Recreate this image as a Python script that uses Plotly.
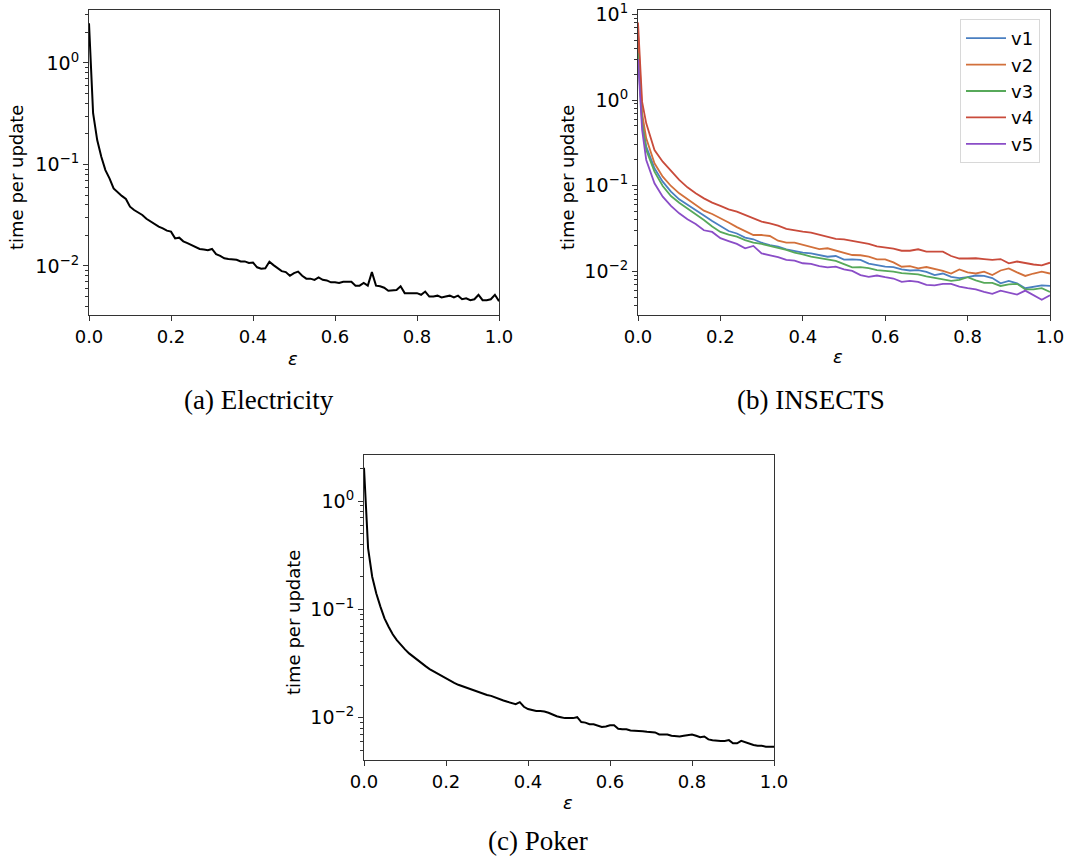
import plotly.graph_objects as go

# ---------------- data ----------------
eps = [round(i * 0.01, 2) for i in range(101)]

electricity = [
    2.46, 0.32, 0.174, 0.119, 0.088, 0.073, 0.058, 0.053, 0.049, 0.0457,
    0.0384, 0.0356, 0.0335, 0.0318, 0.0292, 0.0275, 0.0259, 0.0244, 0.0235, 0.0223,
    0.0218, 0.0187, 0.0190, 0.0175, 0.0168, 0.0161, 0.0154, 0.0147, 0.0145, 0.0143,
    0.0147, 0.0131, 0.0126, 0.0119, 0.0117, 0.0116, 0.0115, 0.0111, 0.0111, 0.0107,
    0.0108, 0.0097, 0.0094, 0.0095, 0.0110, 0.0102, 0.0095, 0.0089, 0.0087, 0.0080,
    0.0085, 0.0088, 0.0080, 0.0075, 0.0075, 0.0073, 0.0077, 0.0073, 0.0072, 0.0069,
    0.0069, 0.0068, 0.0070, 0.0070, 0.0070, 0.0064, 0.0064, 0.0068, 0.0064, 0.0087,
    0.0064, 0.0063, 0.0061, 0.0057, 0.0058, 0.0058, 0.0063, 0.0054, 0.0054, 0.0054,
    0.0054, 0.0052, 0.0056, 0.0050, 0.0050, 0.0051, 0.0049, 0.0050, 0.0051, 0.0049,
    0.0051, 0.0047, 0.0048, 0.0046, 0.0047, 0.0052, 0.0046, 0.0046, 0.0047, 0.0052,
    0.0045,
]

poker = [
    2.03, 0.366, 0.200, 0.140, 0.106, 0.0826, 0.069, 0.0588, 0.052, 0.0468,
    0.0427, 0.0392, 0.0365, 0.0338, 0.0321, 0.0299, 0.0281, 0.0267, 0.0254, 0.0241,
    0.0229, 0.0218, 0.0209, 0.0201, 0.0195, 0.0188, 0.0181, 0.0176, 0.0171, 0.0165,
    0.0162, 0.0159, 0.0153, 0.0149, 0.0144, 0.0140, 0.0137, 0.0133, 0.0139, 0.0126,
    0.0120, 0.0117, 0.0115, 0.0115, 0.0114, 0.0111, 0.0106, 0.0103, 0.0101, 0.0099,
    0.0099, 0.0099, 0.0101, 0.0091, 0.0090, 0.0087, 0.0087, 0.0085, 0.0082, 0.0083,
    0.0085, 0.0085, 0.0079, 0.0078, 0.0078, 0.0076, 0.0076, 0.0075, 0.0075, 0.0074,
    0.0074, 0.0073, 0.0070, 0.0070, 0.0070, 0.0068, 0.0067, 0.0067, 0.0068, 0.0069,
    0.0070, 0.0068, 0.0066, 0.0067, 0.0063, 0.0062, 0.0061, 0.0061, 0.0061, 0.0062,
    0.0058, 0.0058, 0.0061, 0.0059, 0.0057, 0.0056, 0.0055, 0.0055, 0.0054, 0.0054,
    0.0054,
]

eps_insects = [0.0, 0.01] + [round(0.02 * k, 2) for k in range(1, 51)]

insects_v1 = [
    4.5, 0.585, 0.286, 0.160, 0.1117, 0.0855, 0.0695, 0.0597, 0.0522, 0.0451,
    0.0388, 0.0340, 0.0297, 0.0278, 0.0249, 0.0238, 0.0217, 0.0204, 0.0195, 0.0182,
    0.0175, 0.0166, 0.0163, 0.0156, 0.0149, 0.0152,
    0.0138, 0.0139, 0.0137, 0.0124, 0.0119, 0.0114, 0.0113, 0.0106, 0.0103, 0.0104,
    0.0099, 0.0091, 0.0095, 0.0087, 0.0084, 0.0086, 0.0090, 0.0089, 0.0084, 0.0073,
    0.0078, 0.0073, 0.0064, 0.0067, 0.0069, 0.0068,
]
insects_v2 = [
    6.0, 0.70, 0.357, 0.183, 0.128, 0.0995, 0.0817, 0.0695, 0.0597, 0.0513,
    0.0469, 0.0421, 0.0373, 0.0330, 0.0300, 0.0267, 0.0267, 0.0260, 0.0229, 0.0217,
    0.0217, 0.0204, 0.0192, 0.0183, 0.0187, 0.0175,
    0.0166, 0.0156, 0.0155, 0.0149, 0.0139, 0.0139, 0.0128, 0.0114, 0.0116, 0.0109,
    0.0113, 0.0108, 0.0102, 0.0095, 0.0106, 0.0098, 0.0095, 0.0100, 0.0091, 0.0103,
    0.0109, 0.0098, 0.0089, 0.0095, 0.0100, 0.0095,
]
insects_v3 = [
    3.5, 0.535, 0.261, 0.146, 0.0995, 0.076, 0.0636, 0.0546, 0.047, 0.040,
    0.0335, 0.0290, 0.0270, 0.0256, 0.0233, 0.0217, 0.0210, 0.0199, 0.0187, 0.0179,
    0.0166, 0.0159, 0.0149, 0.0143, 0.0137, 0.0133,
    0.0122, 0.0112, 0.0113, 0.0110, 0.0104, 0.0102, 0.0100, 0.0096, 0.0094, 0.0093,
    0.0088, 0.0084, 0.0081, 0.0078, 0.0080, 0.0086, 0.0079, 0.0074, 0.0074, 0.0068,
    0.0071, 0.0072, 0.0062, 0.0062, 0.0064, 0.0058,
]
insects_v4 = [
    8.0, 0.95, 0.535, 0.261, 0.191, 0.150, 0.117, 0.096, 0.0817, 0.0714,
    0.0636, 0.0582, 0.0532, 0.0500, 0.0457, 0.0410, 0.0382, 0.0365, 0.0343, 0.0314,
    0.0300, 0.0292, 0.0284, 0.0267, 0.0251, 0.0240,
    0.0238, 0.0229, 0.0221, 0.0210, 0.0197, 0.0192, 0.0185, 0.0175, 0.0175, 0.0182,
    0.0171, 0.0171, 0.0171, 0.0152, 0.0142, 0.0142, 0.0143, 0.0140, 0.0137, 0.0140,
    0.0125, 0.0131, 0.0125, 0.0121, 0.0118, 0.0127,
]
insects_v5 = [
    3.0, 0.447, 0.200, 0.107, 0.0747, 0.0582, 0.0478, 0.0407, 0.0359, 0.0303,
    0.0290, 0.0245, 0.0227, 0.0210, 0.0187, 0.0199, 0.0163, 0.0156, 0.0147, 0.0137,
    0.0134, 0.0125, 0.0123, 0.0116, 0.0112, 0.0114,
    0.0106, 0.0102, 0.0091, 0.0087, 0.0090, 0.0086, 0.0083, 0.0076, 0.0078, 0.0076,
    0.0070, 0.0069, 0.0072, 0.0072, 0.0067, 0.0064, 0.0062, 0.0058, 0.0055, 0.0060,
    0.0057, 0.0054, 0.0060, 0.0053, 0.0047, 0.0053,
]

series_names = ["v1", "v2", "v3", "v4", "v5"]
series_colors = ["#4a7fc1", "#d2703b", "#57a95a", "#c94b3b", "#8a4dc7"]
captions = ["(a) Electricity", "(b) INSECTS", "(c) Poker"]

x_tickvals = [0.0, 0.2, 0.4, 0.6, 0.8, 1.0]
x_ticktext = ["0.0", "0.2", "0.4", "0.6", "0.8", "1.0"]
y_tickvals = [10.0, 1.0, 0.1, 0.01]
y_ticktext = ["10<sup>1</sup>", "10<sup>0</sup>", "10<sup>\u22121</sup>", "10<sup>\u22122</sup>"]
y_minor = [m * 10.0 ** e for e in (-3, -2, -1, 0, 1) for m in range(2, 10)]

# ---------------- layout geometry (pixels) ----------------
W, H = 1072, 858


def fx(p):
    return p / W


def fy(p):
    return 1 - p / H


panels = {
    # name: (left, right, top, bottom, log range)
    "a": (89, 499, 10, 315, [-2.483, 0.522]),
    "b": (638, 1050, 10, 315, [-2.506, 1.049]),
    "c": (364, 774, 455, 760, [-2.391, 0.425]),
}

FONT = "DejaVu Sans"
AX = "#333333"

fig = go.Figure()

fig.add_trace(go.Scatter(x=eps, y=electricity, mode="lines", xaxis="x", yaxis="y",
                         line=dict(color="black", width=2), showlegend=False))
insects = [insects_v1, insects_v2, insects_v3, insects_v4, insects_v5]
for name, col, vals in zip(series_names, series_colors, insects):
    fig.add_trace(go.Scatter(x=eps_insects, y=vals, mode="lines", name=name,
                             xaxis="x2", yaxis="y2",
                             line=dict(color=col, width=1.8)))
fig.add_trace(go.Scatter(x=eps, y=poker, mode="lines", xaxis="x3", yaxis="y3",
                         line=dict(color="black", width=2), showlegend=False))


def xaxis(key):
    l, r, t, b, _ = panels[key]
    return dict(domain=[fx(l), fx(r)], range=[0, 1], tickvals=x_tickvals, ticktext=x_ticktext,
                ticks="outside", ticklen=5, tickwidth=1, tickcolor=AX,
                showline=True, linecolor=AX, linewidth=1.2, mirror=True,
                showgrid=False, zeroline=False, automargin=False,
                tickfont=dict(family=FONT, size=18, color="black"))


def yaxis(key, anchor):
    l, r, t, b, rng = panels[key]
    return dict(domain=[fy(b), fy(t)], type="log", range=rng, anchor=anchor,
                tickvals=y_tickvals, ticktext=y_ticktext,
                ticks="outside", ticklen=5, tickwidth=1, tickcolor=AX,
                minor=dict(tickvals=y_minor, ticks="outside", ticklen=3, tickcolor=AX, showgrid=False),
                showline=True, linecolor=AX, linewidth=1.2, mirror=True,
                showgrid=False, zeroline=False, automargin=False,
                tickfont=dict(family=FONT, size=19, color="black"))


annotations = []
title_pos = {"a": (17, 178, 293, 358, 259, 400),
             "b": (568, 178, 838, 357, 811, 400),
             "c": (293, 623, 568, 802, 538, 841)}
for key, cap in zip(["a", "b", "c"], captions):
    yx, yy, ex, ey, cx, cy = title_pos[key]
    annotations.append(dict(text="time per update", x=fx(yx), y=fy(yy), xref="paper", yref="paper",
                            textangle=-90, showarrow=False, xanchor="center", yanchor="middle",
                            font=dict(family=FONT, size=18, color="black")))
    annotations.append(dict(text="<i>\u03b5</i>", x=fx(ex), y=fy(ey), xref="paper", yref="paper",
                            showarrow=False, xanchor="center", yanchor="middle",
                            font=dict(family=FONT, size=18, color="black")))
    annotations.append(dict(text=cap, x=fx(cx), y=fy(cy), xref="paper", yref="paper",
                            showarrow=False, xanchor="center", yanchor="middle",
                            font=dict(family="Liberation Serif", size=27, color="black")))

fig.update_layout(
    width=W, height=H, autosize=False,
    margin=dict(l=0, r=0, t=0, b=0, pad=0, autoexpand=False),
    paper_bgcolor="white", plot_bgcolor="white",
    xaxis=dict(**xaxis("a"), anchor="y"),
    yaxis=yaxis("a", "x"),
    xaxis2=dict(**xaxis("b"), anchor="y2"),
    yaxis2=yaxis("b", "x2"),
    xaxis3=dict(**xaxis("c"), anchor="y3"),
    yaxis3=yaxis("c", "x3"),
    legend=dict(x=fx(1040), y=fy(19), xanchor="right", yanchor="top",
                bgcolor="white", bordercolor="#d8d8d8", borderwidth=1,
                font=dict(family=FONT, size=18, color="black"),
                itemwidth=40, tracegroupgap=0),
    annotations=annotations,
    showlegend=True,
)

fig.write_html("out.html", config={"responsive": False, "displayModeBar": False},
               post_script="document.body.style.margin='0';document.body.style.overflow='hidden';")
